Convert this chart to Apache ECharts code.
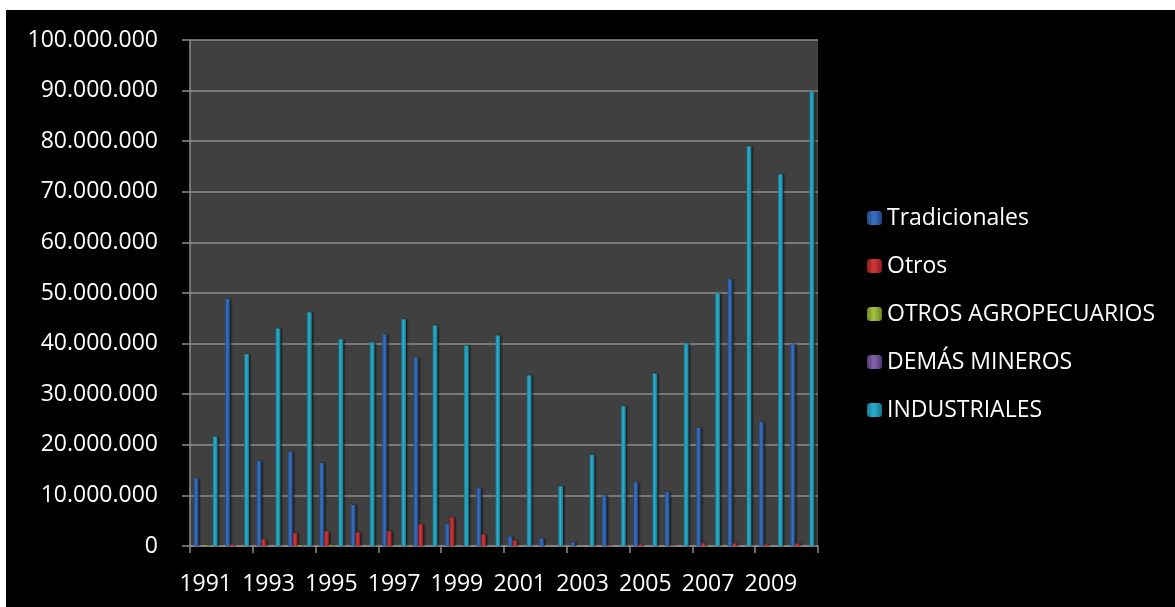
<!DOCTYPE html>
<html>
<head>
<meta charset="utf-8">
<script src="https://cdn.jsdelivr.net/npm/echarts@6/dist/echarts.min.js"></script>
<style>
html,body{margin:0;padding:0;background:#fff;width:1175px;height:607px;overflow:hidden;}
#c{position:absolute;left:6px;top:10px;width:1169px;height:597px;background:#000;}
</style>
</head>
<body>
<div id="c"></div>
<script>
const years = ['1991','1992','1993','1994','1995','1996','1997','1998','1999','2000','2001','2002','2003','2004','2005','2006','2007','2008','2009','2010'];
const tradicionales = [13400000,48800000,16800000,18650000,16400000,8100000,41800000,37300000,4300000,11400000,1900000,1500000,700000,10050000,12600000,10650000,23350000,52700000,24500000,39900000];
const otros = [0,300000,1300000,2500000,2900000,2700000,2900000,4300000,5600000,2300000,1100000,0,0,100000,300000,100000,500000,500000,300000,500000];
const otrosAgro = [200000,0,0,200000,200000,0,0,0,0,0,0,0,0,0,0,0,0,0,0,0];
const demasMineros = [0,0,0,0,0,0,0,0,100000,0,0,0,0,0,0,0,0,0,0,0];
const industriales = [21600000,37900000,43000000,46200000,40850000,40250000,44800000,43600000,39600000,41600000,33700000,11800000,18000000,27600000,34100000,40000000,49900000,79000000,73450000,89700000];
const seriesNames = ['Tradicionales','Otros','OTROS AGROPECUARIOS','DEMÁS MINEROS','INDUSTRIALES'];
const yTicks = {min:0, max:100000000, interval:10000000};

const palettes = [
  ['#1f4a8a','#3a72c0','#1d4582'],
  ['#8e1c1c','#d03a3a','#8a1a1a'],
  ['#6f8a22','#a5c445','#6a8420'],
  ['#553a7a','#8565ab','#513775'],
  ['#167a92','#2bb0cc','#14738a']
];
function grad(p){
  return new echarts.graphic.LinearGradient(0,0,1,0,[
    {offset:0,color:p[0]},{offset:0.45,color:p[1]},{offset:1,color:p[2]}
  ]);
}
const allData = [tradicionales, otros, otrosAgro, demasMineros, industriales];
const font = '"Open Sans", sans-serif';

const chart = echarts.init(document.getElementById('c'));
chart.setOption({
  backgroundColor:'#000',
  animation:false,
  grid:{left:184, right:357, top:30, bottom:61, show:true, backgroundColor:'#404040', borderWidth:0},
  legend:{
    orient:'vertical', left:861, top:196, padding:0,
    itemWidth:15, itemHeight:14, itemGap:24,
    textStyle:{color:'#fff', fontFamily:font, fontSize:23, lineHeight:24},
    data:seriesNames
  },
  xAxis:{
    type:'category', data:years,
    axisLine:{lineStyle:{color:'#8c8c8c', width:1.5}},
    axisTick:{show:true, length:7, lineStyle:{color:'#8c8c8c', width:1.5}},
    axisLabel:{color:'#fff', fontFamily:font, fontSize:23, interval:1, margin:27},
    splitLine:{show:false}
  },
  yAxis:{
    type:'value', min:yTicks.min, max:yTicks.max, interval:yTicks.interval,
    axisLine:{show:true, lineStyle:{color:'#8c8c8c', width:1.5}},
    axisTick:{show:true, length:8, lineStyle:{color:'#8c8c8c', width:1.5}},
    axisLabel:{color:'#fff', fontFamily:font, fontSize:23, margin:32,
      formatter:v=>String(Math.round(v)).replace(/\B(?=(\d{3})+(?!\d))/g,'.')},
    splitLine:{lineStyle:{color:'#8c8c8c', width:1.5}}
  },
  series: seriesNames.map((n,i)=>({
    name:n, type:'bar', data:allData[i],
    barGap:'0%', barCategoryGap:'24%',
    itemStyle:{color:grad(palettes[i]), shadowColor:'rgba(0,0,0,0.6)', shadowBlur:2, shadowOffsetX:1.5}
  }))
});
</script>
</body>
</html>
